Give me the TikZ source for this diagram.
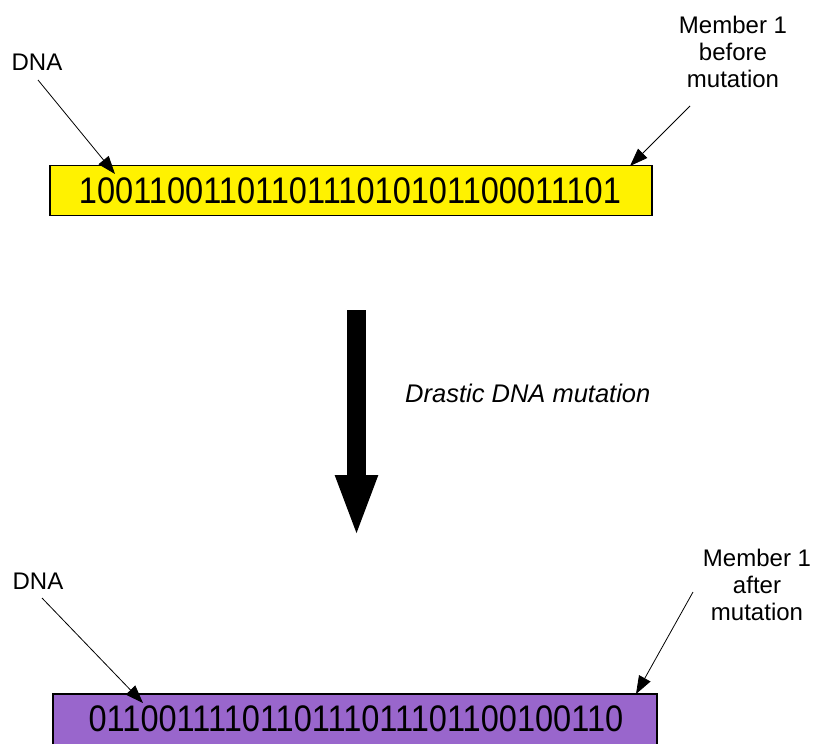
\documentclass[tikz,border=0pt]{standalone}
\usepackage{fontspec}
\setmainfont{Liberation Sans}
\usetikzlibrary{arrows.meta}
\definecolor{genepurple}{HTML}{9966CC}
\newcommand{\bitstring}[1]{\scalebox{0.88}[1]{\fontsize{37}{37}\selectfont #1}}
\begin{document}
\begin{tikzpicture}[x=1pt,y=-1pt,
  genebox/.style={draw=black,line width=1.6pt,inner sep=0pt,minimum height=50pt},
  bits/.style={inner sep=0pt},
  tag/.style={font=\fontsize{24}{27}\selectfont,align=center,inner sep=0pt},
  pointer/.style={line width=0.8pt,-{Triangle[length=18pt,width=13pt]}}]
\useasboundingbox (0,0) rectangle (822,744);

% chromosome before mutation
\node[genebox,fill=yellow,minimum width=602pt] (before) at (351,190.5) {};
\node[bits] (bits1) at (350,191) {\bitstring{1001100110110111010101100011101}};
\node[tag] (dna1) at (37,62) {DNA};
\node[tag] (mem1) at (733,52) {Member 1\\before\\mutation};
\coordinate (d1s) at (38,80);
\coordinate (d1e) at (115,174);
\coordinate (m1s) at (690,106);
\coordinate (m1e) at (630,166);
\draw[pointer] (d1s) -- (d1e);
\draw[pointer] (m1s) -- (m1e);

% mutation step
\coordinate (bigs) at (356.5,310);
\coordinate (bige) at (356.5,538);
\draw[line width=19pt,-{Triangle[length=63pt,width=38pt]}] (bigs) -- (bige);
\node[tag,font=\fontsize{25.5}{27}\selectfont\itshape,anchor=west] (step) at (405,393) {Drastic DNA mutation};

% chromosome after mutation
\node[genebox,fill=genepurple,minimum width=604pt,minimum height=52pt] (after) at (355,720) {};
\node[bits] (bits2) at (356,719) {\bitstring{0110011110110111011101100100110}};
\node[tag] (dna2) at (38,581) {DNA};
\node[tag] (mem2) at (757,585) {Member 1\\after\\mutation};
\coordinate (d2s) at (42,598);
\coordinate (d2e) at (143,703);
\coordinate (m2s) at (693,592);
\coordinate (m2e) at (636,694);
\draw[pointer] (d2s) -- (d2e);
\draw[pointer] (m2s) -- (m2e);
\end{tikzpicture}
\end{document}
